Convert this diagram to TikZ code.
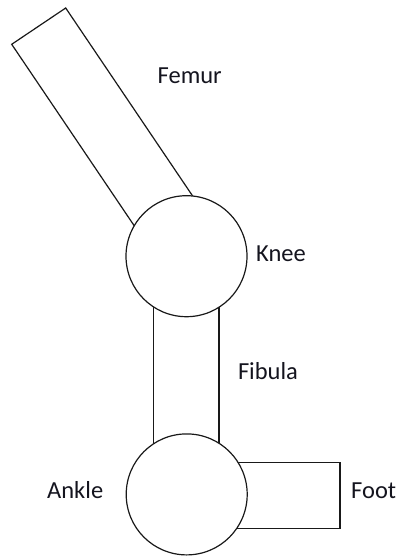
\documentclass[tikz,border=0pt]{standalone}
\usepackage{fontspec}
\setmainfont{Carlito}
\definecolor{ink}{RGB}{25,25,25}
\definecolor{txt}{RGB}{20,20,30}
\begin{document}
\begin{tikzpicture}[x=1pt,y=-1pt,
  bone/.style={draw=ink,line width=1.2pt,fill=white,line join=miter},
  joint/.style={circle,draw=ink,line width=1.2pt,fill=white,inner sep=0pt,minimum size=121pt},
  lbl/.style={anchor=base west,inner sep=0pt,text=txt,font=\fontsize{24.5}{28}\selectfont}]
\useasboundingbox (0,0) rectangle (400,556);
% bones (drawn first, joints cover their ends)
\coordinate (fa) at (65.7,8);
\coordinate (fb) at (11.7,44.3);
\coordinate (fc) at (146,243.2);
\coordinate (fd) at (200,206.9);
\draw[bone] (fa) -- (fb) -- (fc) -- (fd) -- cycle;
\draw[bone] (153.3,300) rectangle (219,452);
\draw[bone] (200,462.3) rectangle (340,528.7);
% joints
\node[joint] (knee) at (186.5,256.2) {};
\node[joint] (ankle) at (186.7,494.4) {};
% labels
\node[lbl] (lfemur) at (157.5,84) {Femur};
\node[lbl] (lknee) at (256,261) {Knee};
\node[lbl] (lfibula) at (237.8,379) {Fibula};
\node[lbl] (lankle) at (47,498.3) {Ankle};
\node[lbl] (lfoot) at (351,498.3) {Foot};
\end{tikzpicture}
\end{document}
